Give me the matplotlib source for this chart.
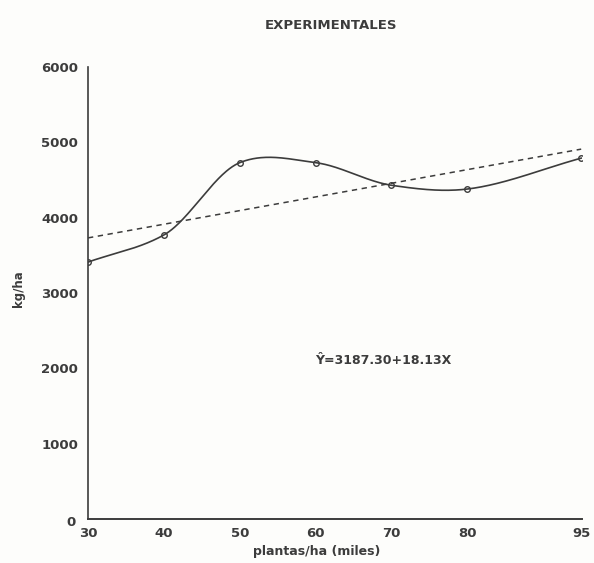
import numpy as np
import matplotlib.pyplot as plt

# densidad de siembra (miles de plantas/ha) y rendimiento (kg/ha)
plantas = [30, 40, 50, 60, 70, 80, 95]
rendimiento = [3410, 3770, 4730, 4730, 4430, 4380, 4790]
x_ticks = [30, 40, 50, 60, 70, 80, 95]
y_ticks = [1000, 2000, 3000, 4000, 5000, 6000]
a, b = 3187.30, 18.13  # recta de regresion


def curva_suave(x, y, xs, c=0.85):
    # spline cardinal (Hermite) que pasa por los puntos observados
    x = np.asarray(x, float)
    y = np.asarray(y, float)
    n = len(x)
    m = np.empty(n)
    m[0] = (y[1] - y[0]) / (x[1] - x[0])
    m[-1] = (y[-1] - y[-2]) / (x[-1] - x[-2])
    for i in range(1, n - 1):
        m[i] = c * (y[i + 1] - y[i - 1]) / (x[i + 1] - x[i - 1])
    out = np.empty_like(xs)
    for j, t in enumerate(xs):
        i = int(np.clip(np.searchsorted(x, t, side="right") - 1, 0, n - 2))
        h = x[i + 1] - x[i]
        s = (t - x[i]) / h
        h00 = 2 * s**3 - 3 * s**2 + 1
        h10 = s**3 - 2 * s**2 + s
        h01 = -2 * s**3 + 3 * s**2
        h11 = s**3 - s**2
        out[j] = h00 * y[i] + h10 * h * m[i] + h01 * y[i + 1] + h11 * h * m[i + 1]
    return out


ink = "#3c3c3c"
fig = plt.figure(figsize=(5.94, 5.63), dpi=100, facecolor="#fdfdfb")
ax = fig.add_axes([0.1481, 0.0782, 0.8316, 0.8028])
ax.set_facecolor("#fdfdfb")

xs = np.linspace(30, 95, 500)
ax.plot(xs, curva_suave(plantas, rendimiento, xs), color=ink, lw=1.2)
ax.plot(plantas, rendimiento, "o", ms=4, mfc="none", mec=ink, mew=1.0)
xr = np.array([30, 95])
ax.plot(xr, a + b * xr, color=ink, lw=1.1, ls=(0, (3.5, 3)))

ax.set_xlim(30, 95.1)
ax.set_ylim(0, 6000)
ax.spines["top"].set_visible(False)
ax.spines["right"].set_visible(False)
ax.spines["left"].set_linewidth(1.2)
ax.spines["bottom"].set_linewidth(1.4)
ax.spines["left"].set_color(ink)
ax.spines["bottom"].set_color(ink)
ax.set_xticks(x_ticks)
ax.set_yticks(y_ticks)
ax.tick_params(length=0, colors=ink, labelsize=9.5)
ax.tick_params(axis="x", pad=6)
ax.tick_params(axis="y", pad=7)
for lab in ax.get_xticklabels() + ax.get_yticklabels():
    lab.set_fontweight("bold")
ax.text(-0.026, -0.008, "0", transform=ax.transAxes, ha="right", va="center",
        fontsize=9.5, fontweight="bold", color=ink)

ax.set_xlabel("plantas/ha (miles)", fontsize=9, fontweight="bold", color=ink)
ax.xaxis.set_label_coords(0.463, -0.057)
ax.set_ylabel("kg/ha", fontsize=8.5, fontweight="bold", color=ink)
ax.yaxis.set_label_coords(-0.128, 0.51)
fig.text(0.557, 0.954, "EXPERIMENTALES", ha="center", va="center",
         fontsize=9.5, fontweight="bold", color=ink)
ax.text(59.9, 2100, "Ŷ=3187.30+18.13X", fontsize=9, fontweight="bold",
        color=ink, va="center")

fig.savefig("out.png", dpi=100, facecolor=fig.get_facecolor())
